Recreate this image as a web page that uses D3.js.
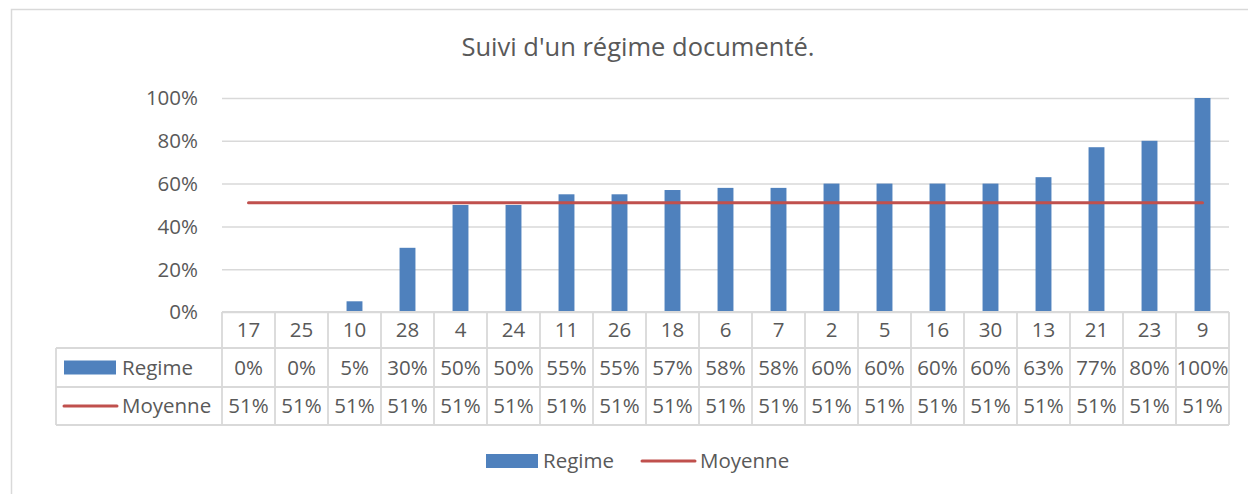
<!DOCTYPE html>
<html>
<head>
<meta charset="utf-8">
<script src="https://cdn.jsdelivr.net/npm/d3@7"></script>
<style>
  html, body { margin: 0; padding: 0; background: #fff; }
  svg { display: block; font-family: "Open Sans", sans-serif; }
</style>
</head>
<body>
<script>
const categories = ["17","25","10","28","4","24","11","26","18","6","7","2","5","16","30","13","21","23","9"];
const regime = [0,0,5,30,50,50,55,55,57,58,58,60,60,60,60,63,77,80,100];
const moyenne = [51,51,51,51,51,51,51,51,51,51,51,51,51,51,51,51,51,51,51];
const yTicks = [0,20,40,60,80,100];
const seriesNames = ["Regime","Moyenne"];
const title = "Suivi d'un régime documenté.";

(function () {
const W = 1248, H = 494;
const textColor = "#595959", gridColor = "#d9d9d9";
const barColor = "#4f81bd", lineColor = "#c0504d";
const fs = 20.5;

const svg = d3.select("body").append("svg").attr("width", W).attr("height", H);

// chart border
svg.append("rect").attr("x", 11.5).attr("y", 9.5).attr("width", 1400).attr("height", 700)
  .attr("fill", "none").attr("stroke", gridColor).attr("stroke-width", 1.5);

// title
svg.append("text").attr("x", 638).attr("y", 56).attr("text-anchor", "middle")
  .attr("font-size", 25.5).attr("fill", textColor).text(title);

const pLeft = 222, pRight = 1229, pTop = 98, pBottom = 312;
const x = d3.scaleBand().domain(categories).range([pLeft, pRight]).padding(0);
const y = d3.scaleLinear().domain([0, 100]).range([pBottom, pTop]);
const bw = x.bandwidth();

// gridlines + y labels
const yAxis = d3.axisLeft(y).tickValues(yTicks).tickSize(-(pRight - pLeft)).tickPadding(24)
  .tickFormat(d => d + "%");
const gy = svg.append("g").attr("transform", `translate(${pLeft},0)`).call(yAxis);
gy.select(".domain").remove();
gy.selectAll(".tick line").attr("stroke", gridColor).attr("stroke-width", 1.5);
gy.selectAll(".tick text").attr("fill", textColor).attr("font-size", fs)
  .attr("font-family", "Open Sans, sans-serif").attr("dy", "0.34em");

// bars
svg.append("g").selectAll("rect").data(categories).join("rect")
  .attr("x", (d) => x(d) + bw * 0.35)
  .attr("width", bw * 0.3)
  .attr("y", (d, i) => y(regime[i]))
  .attr("height", (d, i) => y(0) - y(regime[i]))
  .attr("fill", barColor);

// line
const line = d3.line().x((d, i) => x(categories[i]) + bw / 2).y(d => y(d));
svg.append("path").datum(moyenne).attr("d", line).attr("fill", "none")
  .attr("stroke", lineColor).attr("stroke-width", 3).attr("stroke-linecap", "round");

// data table
const rowY = [312, 348, 387, 425];
const tableLeft = 56;
const tg = svg.append("g");
const lineStyle = sel => sel.attr("stroke", gridColor).attr("stroke-width", 1.8);
tg.append("line").attr("x1", pLeft).attr("x2", pRight).attr("y1", rowY[0]).attr("y2", rowY[0]).call(lineStyle);
[1, 2, 3].forEach(k => {
  tg.append("line").attr("x1", tableLeft).attr("x2", pRight).attr("y1", rowY[k]).attr("y2", rowY[k]).call(lineStyle);
});
categories.forEach(c => {
  tg.append("line").attr("x1", x(c)).attr("x2", x(c)).attr("y1", rowY[0]).attr("y2", rowY[3]).call(lineStyle);
});
tg.append("line").attr("x1", pRight).attr("x2", pRight).attr("y1", rowY[0]).attr("y2", rowY[3]).call(lineStyle);
tg.append("line").attr("x1", tableLeft).attr("x2", tableLeft).attr("y1", rowY[1]).attr("y2", rowY[3]).call(lineStyle);

const cellText = (g, xx, yy, t, anchor) => g.append("text").attr("x", xx).attr("y", yy)
  .attr("text-anchor", anchor || "middle").attr("dy", "0.36em").attr("font-size", fs)
  .attr("fill", textColor).text(t);

categories.forEach((c, i) => {
  cellText(tg, x(c) + bw / 2, (rowY[0] + rowY[1]) / 2, c);
  cellText(tg, x(c) + bw / 2, (rowY[1] + rowY[2]) / 2, regime[i] + "%");
  cellText(tg, x(c) + bw / 2, (rowY[2] + rowY[3]) / 2, moyenne[i] + "%");
});

const r1 = (rowY[1] + rowY[2]) / 2, r2 = (rowY[2] + rowY[3]) / 2;
tg.append("rect").attr("x", 64).attr("y", r1 - 7).attr("width", 52).attr("height", 14).attr("fill", barColor);
cellText(tg, 122, r1, seriesNames[0], "start");
tg.append("line").attr("x1", 64).attr("x2", 117).attr("y1", r2).attr("y2", r2)
  .attr("stroke", lineColor).attr("stroke-width", 3).attr("stroke-linecap", "round");
cellText(tg, 122, r2, seriesNames[1], "start");

// legend
const lg = svg.append("g");
const ly = 461;
lg.append("rect").attr("x", 486).attr("y", ly - 7).attr("width", 52).attr("height", 14).attr("fill", barColor);
cellText(lg, 543, ly, seriesNames[0], "start");
lg.append("line").attr("x1", 642).attr("x2", 695).attr("y1", ly).attr("y2", ly)
  .attr("stroke", lineColor).attr("stroke-width", 3).attr("stroke-linecap", "round");
cellText(lg, 700, ly, seriesNames[1], "start");
})();
</script>
</body>
</html>
